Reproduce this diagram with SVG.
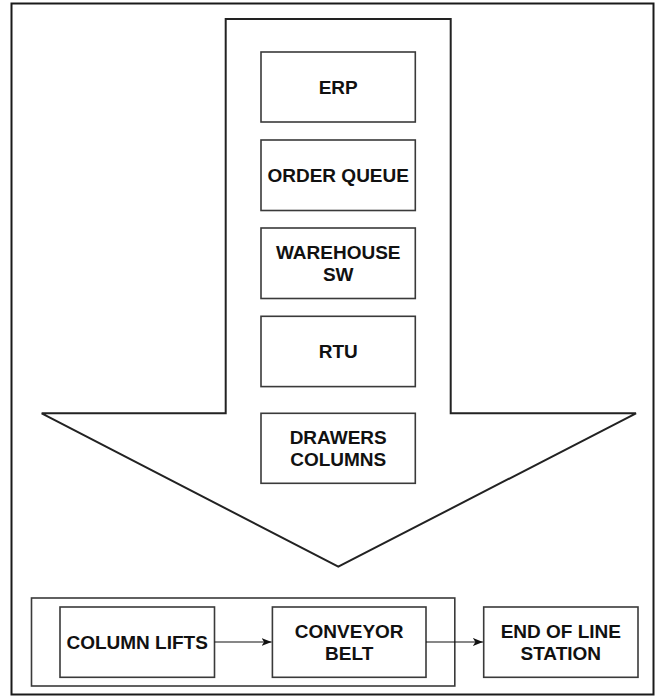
<svg xmlns="http://www.w3.org/2000/svg" width="656" height="697" viewBox="0 0 656 697">
  <style>
    .frame { fill: #ffffff; stroke: #1a1a1a; stroke-width: 2; }
    .shape { fill: #ffffff; stroke: #222222; stroke-width: 2; stroke-linejoin: miter; }
    .box { fill: #ffffff; stroke: #3a3a3a; stroke-width: 1.6; }
    .group { fill: none; stroke: #3a3a3a; stroke-width: 1.6; }
    .label { font-family: "Liberation Sans", Arial, Helvetica, sans-serif; font-weight: bold; font-size: 19px; fill: #111111; text-anchor: middle; }
    .link { fill: none; stroke: #111111; stroke-width: 1.2; }
  </style>
  <defs>
    <marker id="arrowhead" viewBox="0 0 10 10" refX="10" refY="5" markerWidth="10" markerHeight="10" markerUnits="userSpaceOnUse" orient="auto">
      <path d="M0,1 L10,5 L0,9 L2.5,5 Z" fill="#111111"/>
    </marker>
  </defs>

  <!-- outer frame -->
  <rect class="frame" x="11.5" y="3.5" width="642" height="691"/>

  <!-- big downward block arrow -->
  <polygon class="shape" points="225.7,19 450.7,19 450.7,413.3 636,413.3 338.3,566.7 41.7,413.3 225.7,413.3"/>

  <!-- stack of stages inside the arrow -->
  <g id="erp">
    <rect class="box" x="261" y="52" width="154.3" height="70"/>
    <text class="label" x="338.2" y="93.8">ERP</text>
  </g>
  <g id="order-queue">
    <rect class="box" x="261" y="140" width="154.3" height="70.5"/>
    <text class="label" x="338.2" y="182">ORDER QUEUE</text>
  </g>
  <g id="warehouse-sw">
    <rect class="box" x="261" y="228" width="154.3" height="70.5"/>
    <text class="label" x="338.2" y="259.3">WAREHOUSE</text>
    <text class="label" x="338.2" y="280.8">SW</text>
  </g>
  <g id="rtu">
    <rect class="box" x="261" y="316.3" width="154.3" height="70.3"/>
    <text class="label" x="338.2" y="358.3">RTU</text>
  </g>
  <g id="drawers-columns">
    <rect class="box" x="261" y="413.3" width="154.3" height="70"/>
    <text class="label" x="338.2" y="444.3">DRAWERS</text>
    <text class="label" x="338.2" y="465.8">COLUMNS</text>
  </g>

  <!-- bottom line -->
  <g id="lift-conveyor-group">
    <rect class="group" x="31.5" y="598" width="423.3" height="88"/>
  </g>
  <g id="column-lifts">
    <rect class="box" x="60" y="607" width="154.5" height="70.3"/>
    <text class="label" x="137.2" y="648.8">COLUMN LIFTS</text>
  </g>
  <g id="conveyor-belt">
    <rect class="box" x="272.4" y="607" width="153.6" height="70.3"/>
    <text class="label" x="349.2" y="638">CONVEYOR</text>
    <text class="label" x="349.2" y="659.5">BELT</text>
  </g>
  <g id="end-of-line-station">
    <rect class="box" x="483.7" y="607" width="154.3" height="70.3"/>
    <text class="label" x="560.8" y="638">END OF LINE</text>
    <text class="label" x="560.8" y="659.5">STATION</text>
  </g>

  <!-- connectors -->
  <g id="connectors">
    <line class="link" x1="214.5" y1="642" x2="271.6" y2="642" marker-end="url(#arrowhead)"/>
    <line class="link" x1="426" y1="642" x2="482.9" y2="642" marker-end="url(#arrowhead)"/>
  </g>
</svg>
